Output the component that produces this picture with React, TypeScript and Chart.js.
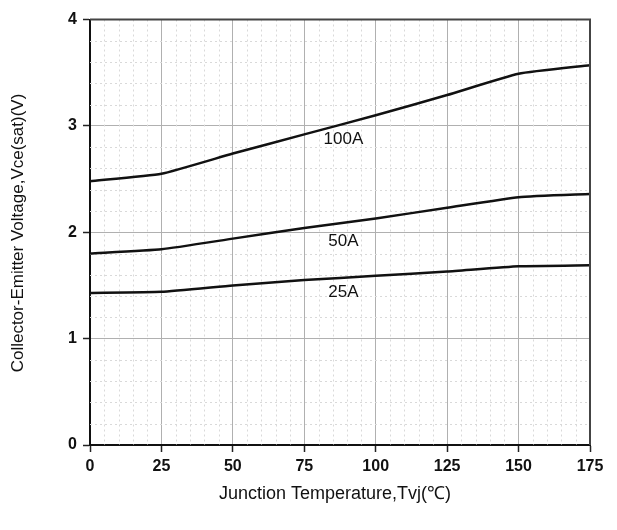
import { useEffect, useRef } from "react";
import { Chart, registerables } from "chart.js";

Chart.register(...registerables);

const temperatures = [0, 25, 50, 75, 100, 125, 150, 175];
const vce100A = [2.48, 2.55, 2.74, 2.92, 3.1, 3.29, 3.49, 3.57];
const vce50A = [1.8, 1.84, 1.94, 2.04, 2.13, 2.23, 2.33, 2.36];
const vce25A = [1.43, 1.44, 1.5, 1.55, 1.59, 1.63, 1.68, 1.69];
const seriesNames = ["100A", "50A", "25A"];
const labelX = [88.7, 88.7, 88.7];
const labelY = [2.876, 1.913, 1.433];
const xTicks = [0, 25, 50, 75, 100, 125, 150, 175];
const yTicks = [0, 1, 2, 3, 4];
const xMinorStep = 5;
const yMinorStep = 0.2;
const xTitle = "Junction Temperature,Tvj(℃)";
const yTitle = "Collector-Emitter Voltage,Vce(sat)(V)";

const FONT = '"Liberation Sans", Arial, sans-serif';

const minorGridPlugin = {
  id: "minorGrid",
  beforeDatasetsDraw(chart: any) {
    const { ctx, chartArea, scales } = chart;
    const xs = scales.x;
    const ys = scales.y;
    ctx.save();
    ctx.strokeStyle = "#d9d9d9";
    ctx.lineWidth = 1;
    ctx.setLineDash([2, 3]);
    for (let v = xs.min; v <= xs.max + 1e-9; v += xMinorStep) {
      if (xTicks.some((t) => Math.abs(t - v) < 1e-6)) continue;
      const px = Math.round(xs.getPixelForValue(v)) + 0.5;
      ctx.beginPath();
      ctx.moveTo(px, chartArea.top);
      ctx.lineTo(px, chartArea.bottom);
      ctx.stroke();
    }
    for (let i = 0; ys.min + i * yMinorStep <= ys.max + 1e-9; i++) {
      const v = ys.min + i * yMinorStep;
      if (yTicks.some((t) => Math.abs(t - v) < 1e-6)) continue;
      const py = Math.round(ys.getPixelForValue(v)) + 0.5;
      ctx.beginPath();
      ctx.moveTo(chartArea.left, py);
      ctx.lineTo(chartArea.right, py);
      ctx.stroke();
    }
    ctx.restore();
  },
};

const framePlugin = {
  id: "frameAndText",
  afterDatasetsDraw(chart: any) {
    const { ctx, chartArea, scales } = chart;
    ctx.save();
    ctx.strokeStyle = "#444";
    ctx.lineWidth = 2;
    ctx.beginPath();
    ctx.moveTo(chartArea.left, chartArea.top);
    ctx.lineTo(chartArea.right, chartArea.top);
    ctx.lineTo(chartArea.right, chartArea.bottom);
    ctx.stroke();
    ctx.fillStyle = "#111";
    ctx.font = `17px ${FONT}`;
    ctx.textAlign = "center";
    ctx.textBaseline = "middle";
    seriesNames.forEach((name, i) => {
      ctx.fillText(
        name,
        scales.x.getPixelForValue(labelX[i]),
        scales.y.getPixelForValue(labelY[i])
      );
    });
    ctx.restore();
  },
  afterDraw(chart: any) {
    const { ctx } = chart;
    ctx.save();
    ctx.fillStyle = "#111";
    ctx.textAlign = "center";
    ctx.textBaseline = "middle";
    ctx.font = `18px ${FONT}`;
    ctx.fillText(xTitle, 335, 494);
    ctx.font = `17px ${FONT}`;
    ctx.translate(18, 233);
    ctx.rotate(-Math.PI / 2);
    ctx.fillText(yTitle, 0, 0);
    ctx.restore();
  },
};

export default function App() {
  const canvasRef = useRef<HTMLCanvasElement | null>(null);

  useEffect(() => {
    if (!canvasRef.current) return;
    const mk = (vals: number[]) => temperatures.map((t, i) => ({ x: t, y: vals[i] }));
    const lineStyle = {
      borderColor: "#111",
      borderWidth: 2.5,
      pointRadius: 0,
      tension: 0.15,
      fill: false,
    };
    const chart = new Chart(canvasRef.current, {
      type: "line",
      data: {
        datasets: [
          { label: seriesNames[0], data: mk(vce100A), ...lineStyle },
          { label: seriesNames[1], data: mk(vce50A), ...lineStyle },
          { label: seriesNames[2], data: mk(vce25A), ...lineStyle },
        ],
      },
      options: {
        animation: false,
        responsive: false,
        layout: { padding: { left: 0, right: 27, top: 19.5, bottom: 0 } },
        plugins: {
          legend: { display: false },
          tooltip: { enabled: false },
        },
        scales: {
          x: {
            type: "linear",
            min: 0,
            max: 175,
            afterBuildTicks: (scale: any) => {
              scale.ticks = xTicks.map((v) => ({ value: v }));
            },
            afterFit: (scale: any) => {
              scale.height = 85;
            },
            grid: {
              color: "#b0b0b0",
              lineWidth: 1,
              tickColor: "#222",
              tickLength: 7,
              tickWidth: 1.5,
            },
            border: { display: true, color: "#111", width: 2 },
            ticks: {
              color: "#111",
              padding: 5,
              maxRotation: 0,
              font: { family: FONT, size: 16, weight: "bold" },
            },
          },
          y: {
            type: "linear",
            min: 0,
            max: 4,
            afterBuildTicks: (scale: any) => {
              scale.ticks = yTicks.map((v) => ({ value: v }));
            },
            afterFit: (scale: any) => {
              scale.width = 90;
            },
            grid: {
              color: "#b0b0b0",
              lineWidth: 1,
              tickColor: "#222",
              tickLength: 7,
              tickWidth: 1.5,
            },
            border: { display: true, color: "#111", width: 2 },
            ticks: {
              color: "#111",
              padding: 6,
              font: { family: FONT, size: 16, weight: "bold" },
            },
          },
        },
      },
      plugins: [minorGridPlugin, framePlugin],
    } as any);
    return () => chart.destroy();
  }, []);

  return (
    <div style={{ position: "absolute", left: 0, top: 0, width: 617, height: 530, background: "#fff" }}>
      <canvas ref={canvasRef} width={617} height={530} style={{ display: "block" }} />
    </div>
  );
}
